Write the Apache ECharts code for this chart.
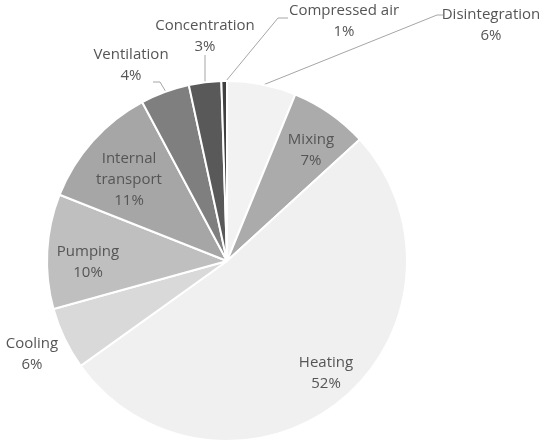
<!DOCTYPE html>
<html>
<head>
<meta charset="utf-8">
<script src="https://cdn.jsdelivr.net/npm/echarts@6/dist/echarts.min.js"></script>
<style>
html,body{margin:0;padding:0;background:#fff;}
#chart{width:550px;height:446px;}
</style>
</head>
<body>
<div id="chart"></div>
<script>
// Data
const categories = ['Disintegration', 'Mixing', 'Heating', 'Cooling', 'Pumping', 'Internal transport', 'Ventilation', 'Concentration', 'Compressed air'];
const shares = [6.2, 7.0, 51.9, 5.6, 10.3, 11.2, 4.4, 2.9, 0.5];
const colors = ['#f2f2f2', '#ababab', '#f0f0f0', '#d9d9d9', '#bfbfbf', '#a6a6a6', '#7f7f7f', '#595959', '#404040'];

// Label placement (label block centers) and leader lines
const labelPos = {
  'Disintegration': [491, 25],
  'Mixing': [311, 150],
  'Heating': [326, 373],
  'Cooling': [32, 354],
  'Pumping': [88, 262],
  'Internal transport': [129, 180],
  'Ventilation': [131, 65],
  'Concentration': [205, 36],
  'Compressed air': [344, 21]
};
const leaderLines = {
  'Disintegration': [[263, 85], [437, 15], [443, 15]],
  'Compressed air': [[226, 81], [278, 18], [288, 18]],
  'Concentration': [[205, 82], [205, 55]],
  'Ventilation': [[166, 92], [160, 82], [153, 82]]
};
const insideItems = ['Mixing', 'Heating', 'Pumping', 'Internal transport'];

const chart = echarts.init(document.getElementById('chart'), null, {renderer: 'canvas'});

const data = categories.map((name, i) => {
  const inside = insideItems.indexOf(name) >= 0;
  const hasLine = !!leaderLines[name];
  return {
    name: name,
    value: shares[i],
    itemStyle: {color: colors[i]},
    label: {position: inside ? 'inside' : 'outside'},
    labelLine: {show: hasLine}
  };
});

chart.setOption({
  animation: false,
  backgroundColor: '#ffffff',
  series: [{
    type: 'pie',
    center: [227, 261],
    radius: 180,
    startAngle: 90,
    clockwise: true,
    avoidLabelOverlap: false,
    itemStyle: {borderColor: '#ffffff', borderWidth: 2},
    label: {
      show: true,
      color: '#555555',
      fontFamily: '"Open Sans", sans-serif',
      fontSize: 15,
      lineHeight: 21,
      align: 'center',
      formatter: function (p) {
        const nm = p.name === 'Internal transport' ? 'Internal\ntransport' : p.name;
        return nm + '\n' + Math.round(p.value) + '%';
      }
    },
    labelLine: {
      show: true,
      length: 10,
      length2: 10,
      lineStyle: {color: '#a6a6a6', width: 1}
    },
    labelLayout: function (params) {
      const name = categories[params.dataIndex];
      const pos = labelPos[name];
      const out = {
        x: pos[0],
        y: pos[1],
        align: 'center',
        verticalAlign: 'middle'
      };
      if (leaderLines[name]) out.labelLinePoints = leaderLines[name];
      return out;
    },
    data: data
  }]
});
</script>
</body>
</html>
